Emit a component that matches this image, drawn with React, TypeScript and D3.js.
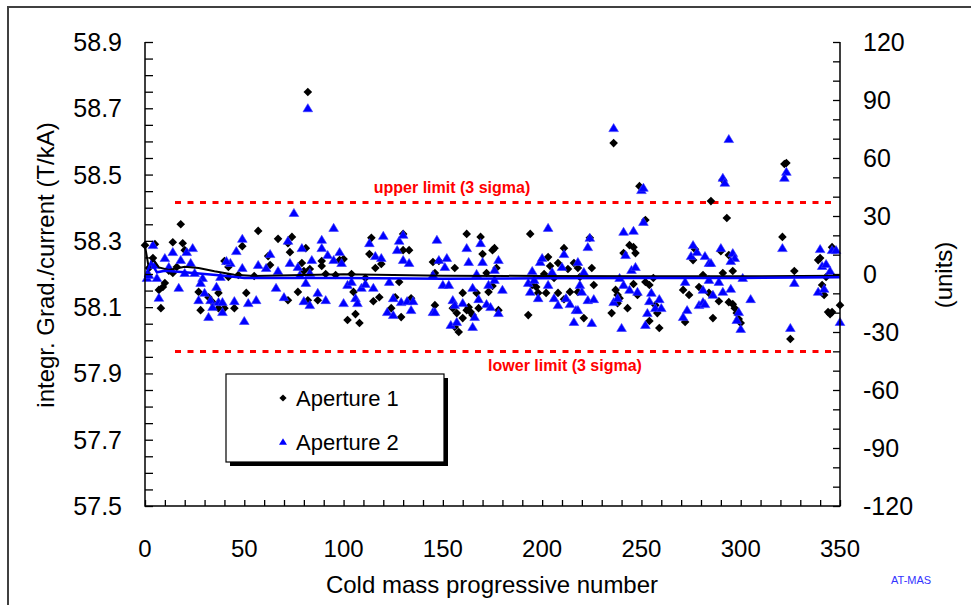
import { useEffect, useRef } from "react";
import * as d3 from "d3";

// Aperture 1 (black diamonds): [cold mass number, integr. grad/current]
const aperture1: [number, number][] = [
  [0, 58.287], [5, 58.29], [2, 58.218], [4, 58.248], [18, 58.35], [14, 58.296], [19, 58.293], [20, 58.272],
  [16, 58.221], [14, 58.203], [10, 58.173], [9, 58.161], [7, 58.152], [8, 58.097], [12, 58.21], [27, 58.146],
  [28, 58.091], [32, 58.13], [34, 58.115], [37, 58.143], [37, 58.097], [40, 58.097], [40, 58.239], [42, 58.221],
  [42, 58.191], [47, 58.197], [49, 58.284], [45, 58.097], [51, 58.143], [55, 58.194], [57, 58.33], [62, 58.254],
  [63, 58.227], [67, 58.306], [72, 58.293],
  [74, 58.312], [73, 58.266], [72, 58.121], [77, 58.146], [79, 58.233], [81, 58.278], [80, 58.209], [83, 58.215],
  [82, 58.121], [87, 58.121], [89, 58.239], [89, 58.224], [91, 58.2], [96, 58.197], [98, 58.242], [100, 58.245],
  [102, 58.061], [108, 58.052], [106, 58.079], [104, 58.2], [105, 58.146], [111, 58.188], [113, 58.26], [114, 58.309],
  [116, 58.218], [119, 58.23], [115, 58.118], [118, 58.13], [126, 58.13], [128, 58.176], [124, 58.097], [129, 58.07],
  [130, 58.321], [130, 58.272], [133, 58.272], [134, 58.127],
  [146, 58.106], [146, 58.203], [148, 58.239], [156, 58.218], [162, 58.321], [160, 58.143], [157, 58.082], [160, 58.067],
  [156, 58.04], [158, 58.025], [155, 58.097], [162, 58.091], [164, 58.085], [165, 58.076], [163, 58.1], [167, 58.143],
  [168, 58.097], [169, 58.312], [170, 58.26], [175, 58.272], [176, 58.278], [172, 58.203], [173, 58.146], [175, 58.164],
  [177, 58.218], [178, 58.091], [145, 58.236],
  [193, 58.076], [194, 58.321], [195, 58.167], [197, 58.161], [198, 58.143], [201, 58.2], [202, 58.143], [203, 58.251],
  [204, 58.224], [206, 58.188], [208, 58.233], [208, 58.143], [211, 58.124], [211, 58.278], [213, 58.215], [214, 58.146],
  [216, 58.233], [218, 58.146], [218, 58.218],
  [219, 58.191], [221, 58.067], [225, 58.218], [224, 58.309], [226, 58.167], [237, 58.152], [238, 58.137], [239, 58.127],
  [238, 58.112], [235, 58.082], [243, 58.097], [241, 58.263], [244, 58.287], [246, 58.281], [247, 58.263], [246, 58.17],
  [248, 58.137], [252, 58.363], [252, 58.176], [254, 58.167], [256, 58.188], [257, 58.106], [258, 58.082], [254, 58.058],
  [259, 58.037], [271, 58.152], [274, 58.137], [272, 58.055], [276, 58.242], [277, 58.275], [279, 58.161], [281, 58.197],
  [284, 58.143],
  [285, 58.42], [293, 58.369], [290, 58.269], [294, 58.257], [291, 58.203], [296, 58.209], [289, 58.118], [286, 58.067],
  [294, 58.115], [296, 58.109], [297, 58.097], [298, 58.082], [299, 58.064], [300, 58.052], [321, 58.312], [327, 58.209],
  [325, 58.004], [339, 58.242], [340, 58.248], [346, 58.281], [343, 58.191], [341, 58.167], [342, 58.137], [344, 58.085],
  [345, 58.079], [346, 58.085], [350, 58.106],
  [82, 58.749], [236, 58.595], [249, 58.465], [291, 58.484], [322, 58.532], [323, 58.535],
];

// Aperture 2 (blue triangles)
const aperture2: [number, number][] = [
  [1, 58.188], [4, 58.287], [5, 58.227], [6, 58.188], [7, 58.128], [10, 58.248], [12, 58.221], [14, 58.266],
  [17, 58.158], [20, 58.203], [21, 58.266], [24, 58.278], [23, 58.233], [25, 58.203], [29, 58.188], [28, 58.173],
  [27, 58.121], [30, 58.143], [33, 58.121], [32, 58.07], [34, 58.1], [36, 58.161], [37, 58.115], [39, 58.085],
  [39, 58.115], [38, 58.191], [43, 58.233], [45, 58.118], [46, 58.269], [49, 58.306], [50, 58.058], [52, 58.112],
  [56, 58.121], [57, 58.227], [63, 58.26], [61, 58.218], [67, 58.209], [66, 58.158], [70, 58.13], [72, 58.3],
  [2, 58.197], [18, 58.242], [41, 58.239], [49, 58.218],
  [75, 58.384], [73, 58.233], [77, 58.221], [79, 58.278], [78, 58.197], [81, 58.173], [80, 58.118], [83, 58.106],
  [84, 58.242], [83, 58.203], [87, 58.143], [89, 58.278], [89, 58.303], [91, 58.121], [92, 58.257], [95, 58.339],
  [95, 58.242], [98, 58.266], [99, 58.233], [100, 58.112], [102, 58.167], [104, 58.176], [106, 58.127], [107, 58.112],
  [109, 58.158], [111, 58.17], [113, 58.293], [115, 58.158], [116, 58.254], [119, 58.248], [120, 58.315], [123, 58.176],
  [125, 58.127], [122, 58.085], [125, 58.076], [127, 58.272], [128, 58.3], [130, 58.318], [130, 58.242], [133, 58.233],
  [129, 58.115], [132, 58.118], [135, 58.118], [134, 58.091], [145, 58.197], [145, 58.085],
  [147, 58.303], [146, 58.085], [148, 58.242], [151, 58.221], [152, 58.248], [150, 58.167], [153, 58.167], [155, 58.121],
  [156, 58.106], [154, 58.046], [157, 58.055], [160, 58.112], [162, 58.278], [163, 58.236], [165, 58.158], [165, 58.04],
  [166, 58.07], [168, 58.124], [169, 58.293], [170, 58.236], [172, 58.109], [174, 58.1], [173, 58.167], [167, 58.2],
  [176, 58.212], [176, 58.182], [178, 58.242], [180, 58.152], [178, 58.082],
  [193, 58.173], [194, 58.146], [195, 58.209], [199, 58.236], [200, 58.248], [203, 58.339], [196, 58.182], [198, 58.127],
  [203, 58.167], [205, 58.206], [206, 58.127], [208, 58.106], [210, 58.221], [211, 58.26], [212, 58.127], [214, 58.109],
  [216, 58.055], [217, 58.091], [218, 58.236],
  [221, 58.206], [219, 58.167], [220, 58.146], [223, 58.281], [224, 58.309], [223, 58.121], [226, 58.124], [218, 58.091],
  [225, 58.052], [239, 58.188], [241, 58.167], [244, 58.152], [236, 58.115], [238, 58.127], [240, 58.037], [241, 58.327],
  [246, 58.33], [242, 58.257], [245, 58.212], [247, 58.221], [248, 58.146], [251, 58.357], [255, 58.143], [254, 58.118],
  [253, 58.082], [252, 58.046], [257, 58.097], [259, 58.124], [260, 58.097], [272, 58.176], [273, 58.091], [271, 58.07],
  [275, 58.254], [276, 58.287], [278, 58.266], [279, 58.106], [281, 58.115], [281, 58.152], [282, 58.254], [284, 58.182],
  [284, 58.233],
  [290, 58.278], [296, 58.263], [297, 58.248], [295, 58.239], [285, 58.233], [289, 58.176], [291, 58.146], [286, 58.137],
  [282, 58.109], [295, 58.155], [301, 58.188], [305, 58.124], [299, 58.085], [298, 58.061], [300, 58.034], [321, 58.278],
  [327, 58.173], [325, 58.037], [340, 58.275], [339, 58.146], [342, 58.155], [341, 58.224], [343, 58.23], [345, 58.209],
  [346, 58.272], [348, 58.272], [350, 58.055],
  [82, 58.7], [236, 58.64], [250, 58.453], [251, 58.46], [294, 58.607], [291, 58.49], [292, 58.475], [323, 58.508],
  [322, 58.49],
];

// running mean lines
const trend1: [number, number][] = [
  [0, 58.285], [2, 58.215], [4, 58.245], [7, 58.22], [12, 58.212], [20, 58.222], [27, 58.218], [35, 58.208],
  [45, 58.198], [55, 58.194], [80, 58.197], [100, 58.199], [150, 58.195], [200, 58.194], [250, 58.193],
  [300, 58.193], [350, 58.195],
];
const trend2: [number, number][] = [
  [0, 58.19], [3, 58.235], [6, 58.205], [10, 58.21], [20, 58.205], [30, 58.2], [40, 58.195], [50, 58.188],
  [100, 58.188], [150, 58.186], [200, 58.187], [250, 58.188], [300, 58.188], [350, 58.19],
];

const upperLimit = 58.416;
const lowerLimit = 57.966;

const xTickLabels = [0, 50, 100, 150, 200, 250, 300, 350];
const yLeftLabels = ["58.9", "58.7", "58.5", "58.3", "58.1", "57.9", "57.7", "57.5"];
const yRightLabels = [120, 90, 60, 30, 0, -30, -60, -90, -120];

const FONT = "'Liberation Sans', Arial, sans-serif";

const App = () => {
  const svgRef = useRef<SVGSVGElement | null>(null);

  useEffect(() => {
    const M = { left: 145, right: 840, top: 42, bottom: 506 };
    const svg = d3.select(svgRef.current);
    svg.selectAll("*").remove();

    const x = d3.scaleLinear().domain([0, 350]).range([M.left, M.right]);
    const y = d3.scaleLinear().domain([57.5, 58.9]).range([M.bottom, M.top]);
    const y2 = d3.scaleLinear().domain([-120, 120]).range([M.bottom, M.top]);

    svg.append("rect").attr("width", 971).attr("height", 605).attr("fill", "#fff");
    // outer frame
    svg.append("path").attr("d", "M8,700 L8,7 L980,7").attr("fill", "none").attr("stroke", "#404040").attr("stroke-width", 2);

    const g = svg.append("g");

    // limit lines
    [upperLimit, lowerLimit].forEach((v) => {
      g.append("line")
        .attr("x1", M.left + 30).attr("x2", M.right - 4)
        .attr("y1", y(v)).attr("y2", y(v))
        .attr("stroke", "#ff0000").attr("stroke-width", 3)
        .attr("stroke-dasharray", "6,6.5");
    });
    g.append("text").text("upper limit (3 sigma)")
      .attr("x", 452).attr("y", y(upperLimit) - 9)
      .attr("text-anchor", "middle").attr("fill", "#ff0000")
      .style("font", `bold 16px ${FONT}`);
    g.append("text").text("lower limit (3 sigma)")
      .attr("x", 565).attr("y", y(lowerLimit) + 19)
      .attr("text-anchor", "middle").attr("fill", "#ff0000")
      .style("font", `bold 16px ${FONT}`);

    // markers
    const diamond = (s: number) => `M0,${-s}L${s},0L0,${s}L${-s},0Z`;
    const triangle = (s: number) => `M0,${-s}L${s * 1.05},${s * 0.75}L${-s * 1.05},${s * 0.75}Z`;

    g.selectAll(".ap1").data(aperture1).enter().append("path")
      .attr("class", "ap1")
      .attr("d", diamond(4.3))
      .attr("transform", (d) => `translate(${x(d[0])},${y(d[1])})`)
      .attr("fill", "#000");

    g.selectAll(".ap2").data(aperture2).enter().append("path")
      .attr("class", "ap2")
      .attr("d", triangle(4.6))
      .attr("transform", (d) => `translate(${x(d[0])},${y(d[1])})`)
      .attr("fill", "#0000ff").attr("stroke", "#3b3bff").attr("stroke-width", 0.6);

    const line = d3.line<[number, number]>().x((d) => x(d[0])).y((d) => y(d[1]));
    g.append("path").datum(trend1).attr("d", line).attr("fill", "none").attr("stroke", "#000").attr("stroke-width", 2);
    g.append("path").datum(trend2).attr("d", line).attr("fill", "none").attr("stroke", "#0000ff").attr("stroke-width", 2.5);

    // axes (ticks inside)
    const axisColor = "#000";
    const axL = g.append("g").attr("transform", `translate(${M.left},0)`)
      .call(d3.axisRight(y).tickValues(d3.range(0, 29).map((i) => +(57.5 + i * 0.05).toFixed(2))).tickSize(8).tickFormat(() => ""));
    const axR = g.append("g").attr("transform", `translate(${M.right},0)`)
      .call(d3.axisLeft(y2).tickValues(d3.range(-120, 121, 10)).tickSize(7).tickFormat(() => ""));
    const axB = g.append("g").attr("transform", `translate(0,${M.bottom})`)
      .call(d3.axisTop(x).tickValues(d3.range(0, 351, 10)).tickSize(6).tickFormat(() => ""));
    [axL, axR, axB].forEach((a) => {
      a.select(".domain").remove();
      a.selectAll("line").attr("stroke", axisColor).attr("stroke-width", 1.3);
    });
    g.append("path")
      .attr("d", `M${M.left},${M.top}L${M.left},${M.bottom}L${M.right},${M.bottom}L${M.right},${M.top}`)
      .attr("fill", "none").attr("stroke", axisColor).attr("stroke-width", 1.5);

    // tick labels
    g.selectAll(".yl").data(yLeftLabels).enter().append("text")
      .text((d) => d)
      .attr("x", 122).attr("y", (d) => y(+d) + 9)
      .attr("text-anchor", "end").style("font", `25px ${FONT}`);
    g.selectAll(".yr").data(yRightLabels).enter().append("text")
      .text((d) => d)
      .attr("x", 863).attr("y", (d) => y2(d) + 9)
      .attr("text-anchor", "start").style("font", `25px ${FONT}`);
    g.selectAll(".xl").data(xTickLabels).enter().append("text")
      .text((d) => d)
      .attr("x", (d) => x(d)).attr("y", 557)
      .attr("text-anchor", "middle").style("font", `24px ${FONT}`);

    // titles
    g.append("text").text("Cold mass progressive number")
      .attr("x", 492).attr("y", 593).attr("text-anchor", "middle").style("font", `24px ${FONT}`);
    g.append("text").text("integr. Grad./current (T/kA)")
      .attr("transform", "translate(54,265) rotate(-90)")
      .attr("text-anchor", "middle").style("font", `24px ${FONT}`);
    g.append("text").text("(units)")
      .attr("transform", "translate(952,275) rotate(-90)")
      .attr("text-anchor", "middle").style("font", `24px ${FONT}`);
    g.append("text").text("AT-MAS")
      .attr("x", 891).attr("y", 584).attr("fill", "#3333ff").style("font", `11px ${FONT}`);

    // legend
    const lg = g.append("g").attr("transform", "translate(226,374)");
    lg.append("rect").attr("x", 4).attr("y", 4).attr("width", 218).attr("height", 88).attr("fill", "#000");
    lg.append("rect").attr("width", 218).attr("height", 88).attr("fill", "#fff").attr("stroke", "#000").attr("stroke-width", 1.2);
    lg.append("path").attr("d", diamond(3.6)).attr("transform", "translate(57,24)").attr("fill", "#000");
    lg.append("path").attr("d", triangle(3.8)).attr("transform", "translate(57,68)").attr("fill", "#0000ff");
    lg.append("text").text("Aperture 1").attr("x", 70).attr("y", 32).style("font", `22px ${FONT}`);
    lg.append("text").text("Aperture 2").attr("x", 70).attr("y", 76).style("font", `22px ${FONT}`);
  }, []);

  return (
    <svg
      ref={svgRef}
      width={971}
      height={605}
      style={{ position: "absolute", left: 0, top: 0, display: "block" }}
    />
  );
};

export default App;
